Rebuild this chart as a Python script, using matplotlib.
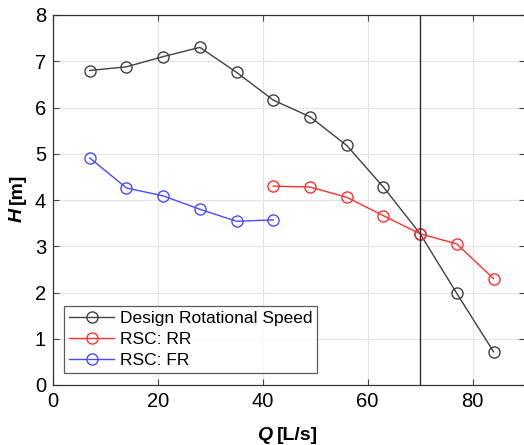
import numpy as np
import matplotlib.pyplot as plt

plt.rcParams['font.family'] = ['Liberation Sans', 'DejaVu Sans']

# Curva de projeto
q_design = [7, 14, 21, 28, 35, 42, 49, 56, 63, 70, 77, 84]
h_design = [6.8, 6.88, 7.1, 7.3, 6.76, 6.16, 5.8, 5.18, 4.28, 3.27, 1.98, 0.72]

# RSC: RR
q_rr = [42, 49, 56, 63, 70, 77, 84]
h_rr = [4.3, 4.28, 4.06, 3.66, 3.27, 3.05, 2.3]

# RSC: FR
q_fr = [7, 14, 21, 28, 35, 42]
h_fr = [4.91, 4.26, 4.09, 3.8, 3.54, 3.57]

q_op = 70

W, H = 524, 445
fig = plt.figure(figsize=(W / 100, H / 100), dpi=100)
ax = fig.add_axes([53 / W, 1 - 385 / H, (525 - 53) / W, (385 - 15) / H])

mk = dict(marker='o', markerfacecolor='none', markersize=8, linewidth=1.0, markeredgewidth=1.0)
ax.plot(q_design, h_design, color='#404040', label='Design Rotational Speed', **mk)
ax.plot(q_rr, h_rr, color='#ff3030', label='RSC: RR', **mk)
ax.plot(q_fr, h_fr, color='#4a4aff', label='RSC: FR', **mk)
ax.axvline(q_op, color='#303030', linewidth=1.0)

ax.set_xlim(0, 90)
ax.set_ylim(0, 8)
ax.set_xticks([0, 20, 40, 60, 80])
ax.set_yticks(range(0, 9))
ax.grid(True, color='#e4e4e4', linewidth=0.8)
ax.set_axisbelow(True)
ax.tick_params(labelsize=14.5, direction='in', length=4, color='#444444',
               top=True, right=True, pad=5)
for s in ax.spines.values():
    s.set_color('#333333')
    s.set_linewidth(0.9)

# rótulos dos eixos (variável em itálico, unidade normal)
fig.text(272 / W, 1 - 440 / H, 'Q', fontsize=14, fontweight='bold', style='italic',
         ha='right', va='baseline')
fig.text(277 / W, 1 - 440 / H, '[L/s]', fontsize=14, fontweight='bold',
         ha='left', va='baseline')
fig.text(9 / W, 1 - 222 / H, 'H', fontsize=14, fontweight='bold', style='italic',
         rotation=90, ha='left', va='bottom')
fig.text(9 / W, 1 - 204 / H, '[m]', fontsize=14, fontweight='bold', rotation=90,
         ha='left', va='bottom')

leg = ax.legend(loc='lower left', fontsize=12.5, frameon=True, fancybox=False,
                borderpad=0.3, handlelength=2.6, handletextpad=0.3, labelspacing=0.32,
                borderaxespad=0, bbox_to_anchor=(11 / 472, 12 / 370))
leg.get_frame().set_edgecolor('#333333')
leg.get_frame().set_linewidth(0.9)

fig.savefig('out.png', dpi=100)
